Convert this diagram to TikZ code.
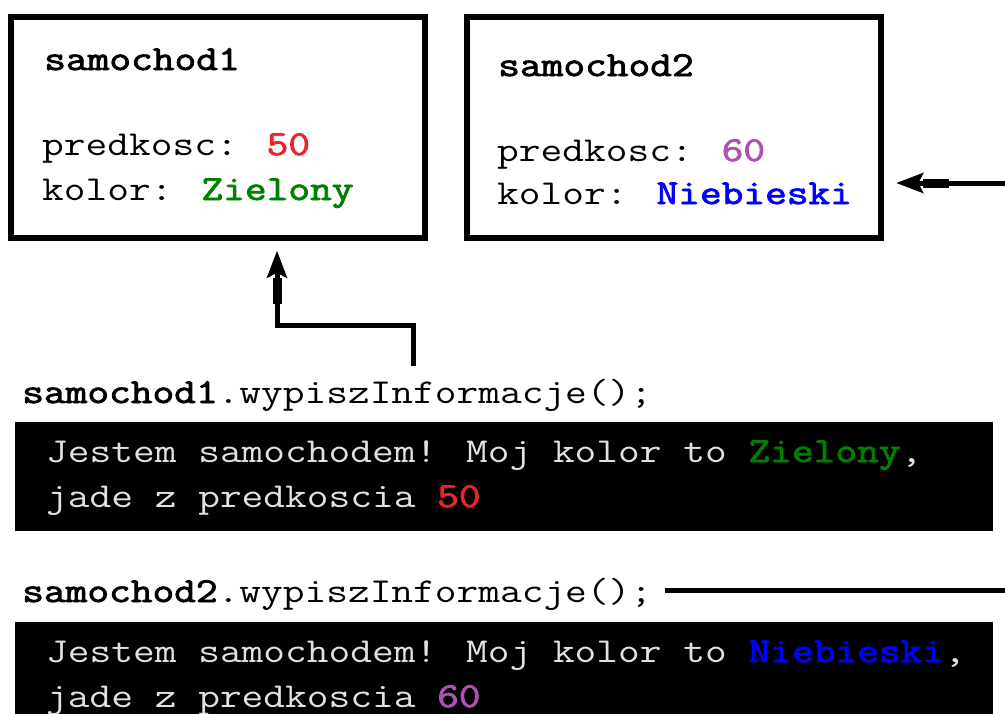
\documentclass[tikz,border=0pt]{standalone}
\usepackage{fontspec}
\newfontfamily\heavymono{Latin Modern Mono}[FakeBold=2.2]
\usetikzlibrary{arrows.meta}

\definecolor{speedred}{RGB}{238,34,44}
\definecolor{speedpurple}{RGB}{176,80,176}
\definecolor{paintgreen}{RGB}{0,128,0}
\definecolor{paintblue}{RGB}{0,0,255}
\definecolor{consolefg}{RGB}{225,225,225}
\newcommand{\hv}[1]{{\heavymono #1}}

\begin{document}
\begin{tikzpicture}[x=1pt, y=-1pt,
    objbox/.style={draw, line width=5.5pt, minimum width=414pt, minimum height=221pt, inner sep=0pt},
    console/.style={fill=black, minimum width=978pt, minimum height=109pt, inner sep=0pt},
    code/.style={anchor=base west, inner sep=0pt, xscale=1.205, font=\ttfamily\fontsize{35}{44}\selectfont},
    conn/.style={line width=5pt},
    fat/.style={-{Rectangle[length=26pt,width=9pt] Stealth[length=27pt,width=20pt,inset=5pt]}}]
    \useasboundingbox (0,0) rectangle (1005,713);
    % Objects
    \node[objbox] (box1) at (218,127.5) {};
    \node[objbox] (box2) at (674,127.5) {};
    \node[code] (name1) at (44,70) {\hv{samochod1}};
    \node[code] (speed1) at (42,155) {predkosc: \textcolor{speedred}{\hv{50}}};
    \node[code] (paint1) at (42,200) {kolor: \textcolor{paintgreen}{\hv{Zielony}}};
    \node[code] (name2) at (498,76) {\hv{samochod2}};
    \node[code] (speed2) at (497,161) {predkosc: \textcolor{speedpurple}{\hv{60}}};
    \node[code] (paint2) at (497,204) {kolor: \textcolor{paintblue}{\hv{Niebieski}}};
    % Calls
    \node[code] (call1) at (22,403) {\hv{samochod1}.wypiszInformacje();};
    \node[code] (call2) at (22,602) {\hv{samochod2}.wypiszInformacje();};
    % Console output
    \node[console] (out1) at (504,476.5) {};
    \node[console] (out2) at (504,676.5) {};
    \node[code, consolefg] (out1a) at (46,462) {Jestem samochodem! Moj kolor to \textcolor{paintgreen}{\hv{Zielony}},};
    \node[code, consolefg] (out1b) at (46,507) {jade z predkoscia \textcolor{speedred}{\hv{50}}};
    \node[code, consolefg] (out2a) at (46,662) {Jestem samochodem! Moj kolor to \textcolor{paintblue}{\hv{Niebieski}},};
    \node[code, consolefg] (out2b) at (46,707) {jade z predkoscia \textcolor{speedpurple}{\hv{60}}};
    % References
    \coordinate (ref1) at (413,366);
    \coordinate (ref1x) at (277,0);
    \coordinate (ref2) at (1005,183);
    \coordinate (ref2end) at (1005,590);
    \draw[conn, fat] (ref1) -- ++(0,-40.5) -| ([yshift=-10pt]box1.south -| ref1x);
    \draw[conn, fat] (ref2) -- ([xshift=12.5pt]box2.east |- ref2);
    \draw[conn] ([xshift=13pt]call2.east |- ref2end) -- (ref2end);
\end{tikzpicture}
\end{document}
